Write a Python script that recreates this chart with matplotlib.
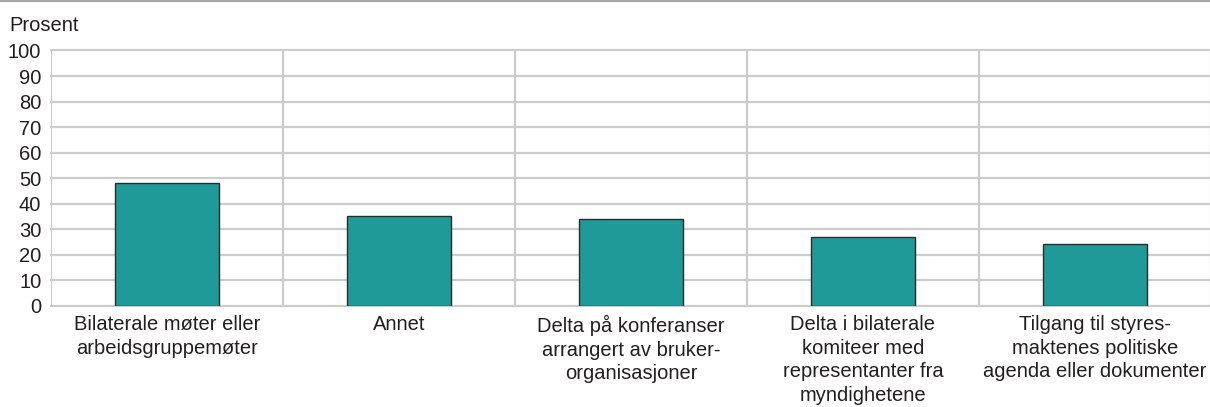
import matplotlib
matplotlib.use("Agg")
import matplotlib.pyplot as plt
from matplotlib.lines import Line2D
import numpy as np

plt.rcParams['font.family'] = ['Liberation Sans', 'DejaVu Sans']

categories = [
    "Bilaterale møter eller\narbeidsgruppemøter",
    "Annet",
    "Delta på konferanser\narrangert av bruker-\norganisasjoner",
    "Delta i bilaterale\nkomiteer med\nrepresentanter fra\nmyndighetene",
    "Tilgang til styres-\nmaktenes politiske\nagenda eller dokumenter",
]
values = [48, 35, 34, 27, 24]
yticks = [0, 10, 20, 30, 40, 50, 60, 70, 80, 90, 100]
ylabel = "Prosent"

text_color = "#231f20"
grid_color = "#cccccc"
bar_color = "#1f9a98"
fs = 14.5

fig = plt.figure(figsize=(12.10, 4.07), dpi=100)
W, H = 1210, 407
left, right = 51 / W, 1211 / W
bottom, top = 1 - 305.7 / H, 1 - 50.5 / H
ax = fig.add_axes([left, bottom, right - left, top - bottom])

x = np.arange(len(categories))
ax.bar(x, values, width=0.45, color=bar_color, edgecolor="#2b2b2b",
       linewidth=1.0, zorder=3)

ax.set_xlim(-0.5, len(categories) - 0.5)
ax.set_ylim(0, 100)
ax.set_yticks(yticks)
ax.set_yticklabels([str(t) for t in yticks], fontsize=fs, color=text_color)
ax.tick_params(axis='y', length=0, pad=7)
for lbl in ax.get_yticklabels():
    lbl.set_verticalalignment('center_baseline')

ax.set_xticks(x)
ax.set_xticklabels(categories, fontsize=fs, color=text_color, linespacing=1.3)
ax.tick_params(axis='x', length=0, pad=7)

# grid
for t in yticks:
    ax.axhline(t, color=grid_color, lw=1.6, zorder=1, clip_on=False)
for b in np.arange(-0.5, len(categories), 1.0):
    ax.axvline(b, color=grid_color, lw=1.6, zorder=1)

for s in ax.spines.values():
    s.set_visible(False)

fig.text(9 / W, 1 - 31 / H, ylabel, fontsize=fs, color=text_color,
         ha='left', va='baseline')

fig.add_artist(Line2D([0, 1], [1 - 1 / H, 1 - 1 / H], transform=fig.transFigure,
                      color="#a6a6a6", lw=1.6))

fig.savefig("out.png", dpi=100)
